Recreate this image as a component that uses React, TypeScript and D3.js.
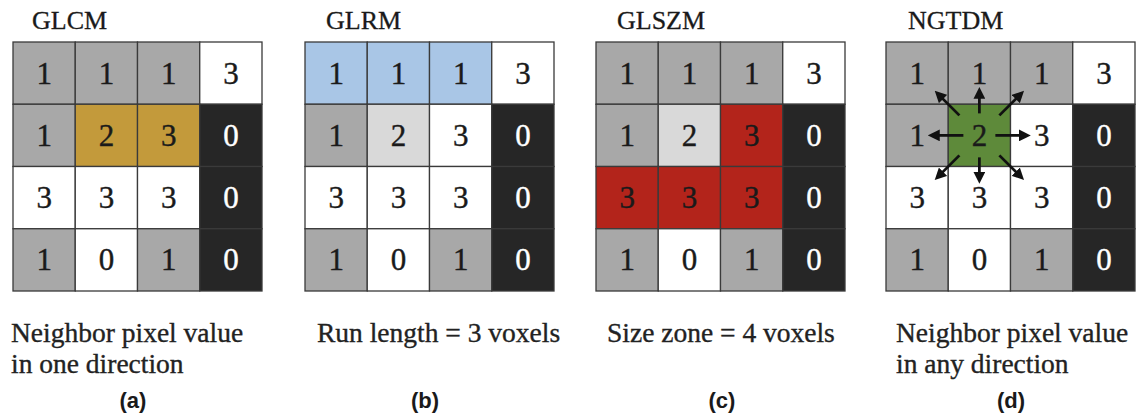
import React from "react";
import * as d3 from "d3";

const W = 1146;
const H = 416;

// Grid values (rows top to bottom)
const gridValues: number[][] = [
  [1, 1, 1, 3],
  [1, 2, 3, 0],
  [3, 3, 3, 0],
  [1, 0, 1, 0],
];
// base shade of each cell: 0 white, 1 light gray, 2 gray, 3 dark
const gridShades: number[][] = [
  [2, 2, 2, 0],
  [2, 1, 0, 3],
  [0, 0, 0, 3],
  [2, 0, 2, 3],
];

const panelTitles = ["GLCM", "GLRM", "GLSZM", "NGTDM"];
const captionLines: string[][] = [
  ["Neighbor pixel value", "in one direction"],
  ["Run length = 3 voxels"],
  ["Size zone = 4 voxels"],
  ["Neighbor pixel value", "in any direction"],
];
const panelLabels = ["(a)", "(b)", "(c)", "(d)"];

// highlighted cells per panel: [row, col]
const highlights: [number, number][][] = [
  [[1, 1], [1, 2]],
  [[0, 0], [0, 1], [0, 2]],
  [[1, 2], [2, 0], [2, 1], [2, 2]],
  [[1, 1]],
];
const highlightColors = ["#c39a3b", "#a9c6e6", "#b3241b", "#5e8a3a"];
const shadeColors = ["#ffffff", "#d9d9d9", "#a8a8a8", "#262626"];

// NGTDM neighbour directions
const directions: [number, number][] = [
  [-1, -1], [0, -1], [1, -1],
  [-1, 0], [1, 0],
  [-1, 1], [0, 1], [1, 1],
];

// layout
const panelX = [13, 305, 596, 886];
const gridTop = 42;
const gridSize = 249;
const titleX = [32, 326, 617, 908];
const captionX = [11, 317, 607, 896];
const labelX = [133, 425, 722, 1011];

const serif = "Liberation Serif, DejaVu Serif, serif";
const sans = "Liberation Sans, Arimo, DejaVu Sans, sans-serif";

function Panel({ idx }: { idx: number }) {
  const x = d3.scaleBand<number>().domain(d3.range(4)).range([panelX[idx], panelX[idx] + gridSize]);
  const y = d3.scaleBand<number>().domain(d3.range(4)).range([gridTop, gridTop + gridSize]);
  const hl = highlights[idx];
  const isHl = (r: number, c: number) => hl.some(([hr, hc]) => hr === r && hc === c);
  const cells: any[] = [];
  const texts: any[] = [];
  gridValues.forEach((row, r) =>
    row.forEach((v, c) => {
      const shade = gridShades[r][c];
      const fill = isHl(r, c) ? highlightColors[idx] : shadeColors[shade];
      const tc = shade === 3 && !isHl(r, c) ? "#ffffff" : "#1a1a1a";
      cells.push(
        <rect
          key={`c${r}-${c}`}
          x={x(c)}
          y={y(r)}
          width={x.bandwidth()}
          height={y.bandwidth()}
          fill={fill}
          stroke="#3a3a3a"
          strokeWidth={1.3}
        />
      );
      texts.push(
        <text
          key={`t${r}-${c}`}
          x={(x(c) as number) + x.bandwidth() / 2}
          y={(y(r) as number) + y.bandwidth() / 2 + 10.5}
          textAnchor="middle"
          fontFamily={serif}
          fontSize={31}
          fill={tc}
          stroke={tc}
          strokeWidth={0.4}
        >
          {v}
        </text>
      );
    })
  );

  let arrows: any[] = [];
  if (idx === 3) {
    const [cr, cc] = hl[0];
    const cx = (x(cc) as number) + x.bandwidth() / 2;
    const cy = (y(cr) as number) + y.bandwidth() / 2;
    arrows = directions.map(([dx, dy], i) => {
      let t0: number, t1: number;
      if (dy === 0) { t0 = 16; t1 = 42; }
      else if (dx === 0) { t0 = 22; t1 = 39; }
      else { t0 = 20; t1 = 38; }
      return (
        <line
          key={`a${i}`}
          x1={cx + dx * t0}
          y1={cy + dy * t0}
          x2={cx + dx * t1}
          y2={cy + dy * t1}
          stroke="#111"
          strokeWidth={2.8}
          markerEnd="url(#arrowHead)"
        />
      );
    });
  }

  return (
    <g>
      <text x={titleX[idx]} y={29} fontFamily={serif} fontSize={26} fill="#1a1a1a" stroke="#1a1a1a" strokeWidth={0.3}>
        {panelTitles[idx]}
      </text>
      {cells}
      {texts}
      {arrows}
      {captionLines[idx].map((line, i) => (
        <text
          key={`cap${i}`}
          x={captionX[idx]}
          y={342 + i * 31}
          fontFamily={serif}
          fontSize={27.5}
          fill="#222"
          stroke="#222"
          strokeWidth={0.35}
        >
          {line}
        </text>
      ))}
      <text
        x={labelX[idx]}
        y={408}
        textAnchor="middle"
        fontFamily={sans}
        fontWeight="bold"
        fontSize={22}
        fill="#1a1a1a"
      >
        {panelLabels[idx]}
      </text>
    </g>
  );
}

export default function App() {
  return (
    <svg width={W} height={H} style={{ position: "absolute", left: 0, top: 0, background: "#fff" }}>
      <defs>
        <marker
          id="arrowHead"
          viewBox="0 0 10 10"
          refX="2"
          refY="5"
          markerWidth="4.2"
          markerHeight="4.2"
          orient="auto"
        >
          <path d="M0,0 L10,5 L0,10 z" fill="#111" />
        </marker>
      </defs>
      <rect x={0} y={0} width={W} height={H} fill="#fff" />
      {d3.range(4).map((i) => (
        <Panel key={i} idx={i} />
      ))}
    </svg>
  );
}
